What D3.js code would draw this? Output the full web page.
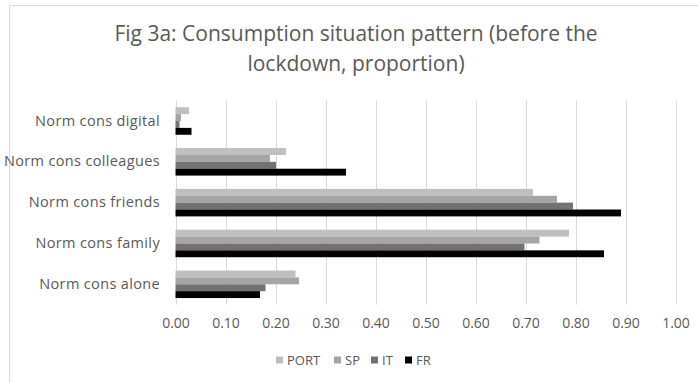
<!DOCTYPE html>
<html>
<head>
<meta charset="utf-8">
<script src="https://cdn.jsdelivr.net/npm/d3@7/dist/d3.min.js"></script>
<style>
  html, body { margin: 0; padding: 0; background: #fff; }
  svg { display: block; font-family: "Open Sans", sans-serif; }
</style>
</head>
<body>
<svg id="chart" width="698" height="383"></svg>
<script>
// Categories, listed top to bottom
const categories = ["Norm cons digital", "Norm cons colleagues", "Norm cons friends", "Norm cons family", "Norm cons alone"];
const seriesNames = ["PORT", "SP", "IT", "FR"];
const seriesColors = ["#bfbfbf", "#a5a5a5", "#767171", "#000000"];

// Proportions per country, in category order
const PORT = [0.027, 0.221, 0.715, 0.787, 0.240];
const SP   = [0.011, 0.189, 0.763, 0.728, 0.247];
const IT   = [0.008, 0.201, 0.795, 0.698, 0.180];
const FR   = [0.032, 0.341, 0.891, 0.857, 0.169];

const xTicks = [0, 0.1, 0.2, 0.3, 0.4, 0.5, 0.6, 0.7, 0.8, 0.9, 1.0];
const titleLines = ["Fig 3a: Consumption situation pattern (before the", "lockdown, proportion)"];

const seriesValues = [PORT, SP, IT, FR];
const rows = categories.map((c, i) => ({
  category: c,
  values: seriesNames.map((s, j) => ({ key: s, value: seriesValues[j][i], color: seriesColors[j] }))
}));

const svg = d3.select("#chart");
const textColor = "#595959";
const gridColor = "#d9d9d9";

// Chart frame
svg.append("rect")
  .attr("x", 9.5).attr("y", 5.5)
  .attr("width", 700).attr("height", 400)
  .attr("fill", "#fff").attr("stroke", gridColor).attr("stroke-width", 1);

// Title
svg.append("g").selectAll("text")
  .data(titleLines)
  .join("text")
  .attr("x", 356)
  .attr("y", (d, i) => 40.5 + i * 30)
  .attr("text-anchor", "middle")
  .attr("fill", textColor)
  .attr("font-size", 21)
  .text(d => d);

const plot = { left: 175.5, right: 675.5, top: 100.6, bottom: 304.7 };

const x = d3.scaleLinear().domain([0, 1]).range([plot.left, plot.right]);
const y = d3.scaleBand().domain(categories).range([plot.top, plot.bottom]).paddingInner(0.326).paddingOuter(0.163);
const ySub = d3.scaleBand().domain(seriesNames).range([0, y.bandwidth()]);

// Vertical gridlines
svg.append("g").selectAll("line")
  .data(xTicks)
  .join("line")
  .attr("x1", d => Math.round(x(d)) + 0.5)
  .attr("x2", d => Math.round(x(d)) + 0.5)
  .attr("y1", plot.top)
  .attr("y2", plot.bottom)
  .attr("stroke", gridColor)
  .attr("stroke-width", 1);

// Bars
const groups = svg.append("g").selectAll("g")
  .data(rows)
  .join("g")
  .attr("transform", d => `translate(0,${y(d.category)})`);

groups.selectAll("rect")
  .data(d => d.values)
  .join("rect")
  .attr("x", x(0))
  .attr("y", d => ySub(d.key))
  .attr("width", d => x(d.value) - x(0))
  .attr("height", ySub.bandwidth())
  .attr("fill", d => d.color);

// X axis labels
const xAxis = d3.axisBottom(x)
  .tickValues(xTicks)
  .tickFormat(d3.format(".2f"))
  .tickSize(0)
  .tickPadding(13);
const xg = svg.append("g")
  .attr("transform", `translate(0,${plot.bottom})`)
  .call(xAxis);
xg.select(".domain").remove();
xg.selectAll("text").attr("fill", textColor).attr("font-size", 14).attr("font-family", "'Open Sans', sans-serif");

// Category labels
const yAxis = d3.axisLeft(y).tickSize(0).tickPadding(15.5);
const yg = svg.append("g")
  .attr("transform", `translate(${plot.left},0)`)
  .call(yAxis);
yg.select(".domain").remove();
yg.selectAll("text")
  .attr("fill", textColor)
  .attr("font-size", 14.5)
  .attr("letter-spacing", 0.35)
  .attr("font-family", "'Open Sans', sans-serif");

// Legend
const legendX = [276, 334, 371, 405];
const legend = svg.append("g").selectAll("g")
  .data(seriesNames)
  .join("g")
  .attr("transform", (d, i) => `translate(${legendX[i]},360)`);
legend.append("rect")
  .attr("x", 0).attr("y", -3.5)
  .attr("width", 7).attr("height", 7)
  .attr("fill", (d, i) => seriesColors[i]);
legend.append("text")
  .attr("x", 11).attr("y", 0)
  .attr("dy", "0.35em")
  .attr("fill", textColor)
  .attr("font-size", 13)
  .text(d => d);
</script>
</body>
</html>
